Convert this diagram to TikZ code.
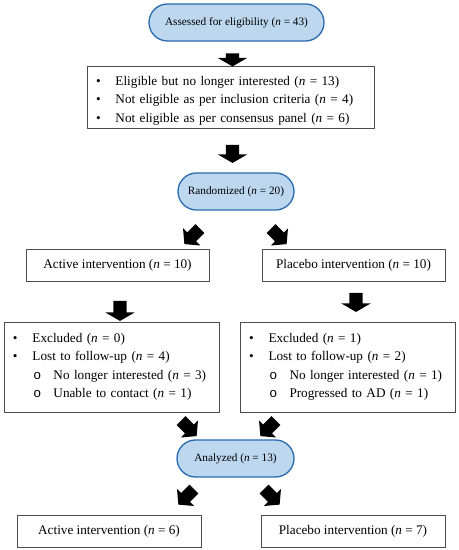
\documentclass[tikz,border=0pt]{standalone}
\usepackage{fontspec}
\setmainfont{Liberation Serif}
\setmonofont{Liberation Mono}
\usetikzlibrary{shapes.misc,shapes.arrows}
\definecolor{pillfill}{RGB}{189,215,238}
\definecolor{pilldraw}{RGB}{40,105,175}
\newcommand{\nn}{\textit{n}}
\newcommand{\itm}[1]{\mbox{\makebox[19.5bp][l]{\textbullet}#1}}
\newcommand{\subitm}[1]{\mbox{\hspace*{20.4bp}\makebox[20.1bp][l]{\texttt{o}}#1}}
\tikzset{
  pill/.style={rounded rectangle, draw=pilldraw, fill=pillfill, line width=1.3bp,
    minimum height=37bp, inner sep=0pt, font=\fontsize{11.3}{13}\selectfont},
  box/.style={draw=black!70, line width=0.8bp, minimum height=32bp, inner sep=0pt,
    font=\fontsize{13.25}{18.6}\selectfont},
  listbox/.style={box, align=left, inner xsep=9bp, inner ysep=0pt},
  bigarrow/.style={single arrow, fill=black, inner xsep=0pt, inner ysep=6.5bp,
    single arrow head extend=8bp, single arrow tip angle=120},
  skewarrow/.style={single arrow, fill=black, inner xsep=0pt, inner ysep=6bp,
    minimum height=22bp, single arrow head extend=6bp, single arrow tip angle=100}
}
\begin{document}
\begin{tikzpicture}[x=1bp, y=1bp]
            \useasboundingbox (0,0) rectangle (459,550);
            \node[pill, minimum width=175bp] (assessed) at (236.5,527.5) {Assessed for eligibility (\nn{} = 43)};
            \node[listbox, text width=269bp, minimum height=62bp] (notelig) at (230.5,453)
                {\rule{0pt}{16bp}\itm{Eligible but no longer interested (\nn{} = 13)}\\
                 \itm{Not eligible as per inclusion criteria (\nn{} = 4)}\\
                 \itm{Not eligible as per consensus panel (\nn{} = 6)}};
            \node[pill, minimum width=116bp] (random) at (236,358.5) {Randomized (\nn{} = 20)};
            \node[box, minimum width=183bp] (active) at (117.5,285) {Active intervention (\nn{} = 10)};
            \node[box, minimum width=183bp] (placebo) at (353.5,285) {Placebo intervention (\nn{} = 10)};
            \node[listbox, text width=197bp, minimum height=90bp] (activelost) at (111.5,183)
                {\itm{Excluded (\nn{} = 0)}\\
                 \itm{Lost to follow-up (\nn{} = 4)}\\
                 \subitm{No longer interested (\nn{} = 3)}\\
                 \subitm{Unable to contact (\nn{} = 1)}};
            \node[listbox, text width=197bp, minimum height=90bp] (placebolost) at (347.5,183)
                {\itm{Excluded (\nn{} = 1)}\\
                 \itm{Lost to follow-up (\nn{} = 2)}\\
                 \subitm{No longer interested (\nn{} = 1)}\\
                 \subitm{Progressed to AD (\nn{} = 1)}};
            \node[pill, minimum width=117bp] (analyzed) at (235.5,91.5) {Analyzed (\nn{} = 13)};
            \node[box, minimum width=184bp] (activeend) at (109,19) {Active intervention (\nn{} = 6)};
            \node[box, minimum width=184bp] (placeboend) at (353,19) {Placebo intervention (\nn{} = 7)};
            % block arrows
            \node[bigarrow, minimum height=13bp, rotate=-90] (arr1) at (232.5,492) {};
            \node[bigarrow, minimum height=18bp, rotate=-90] (arr2) at (232.5,398) {};
            \node[bigarrow, minimum height=20bp, rotate=-90] (arr3) at (120,241) {};
            \node[bigarrow, minimum height=19bp, rotate=-90] (arr4) at (356,249.5) {};
            \node[skewarrow, rotate=-135] (skew1) at (194,315.5) {};
            \node[skewarrow, rotate=-45] (skew2) at (277,315.5) {};
            \node[skewarrow, rotate=-45] (skew3) at (187,123.5) {};
            \node[skewarrow, rotate=-135] (skew4) at (270,123.5) {};
            \node[skewarrow, rotate=-135] (skew5) at (188,55) {};
            \node[skewarrow, rotate=-45] (skew6) at (270,55) {};
        \end{tikzpicture}
\end{document}
